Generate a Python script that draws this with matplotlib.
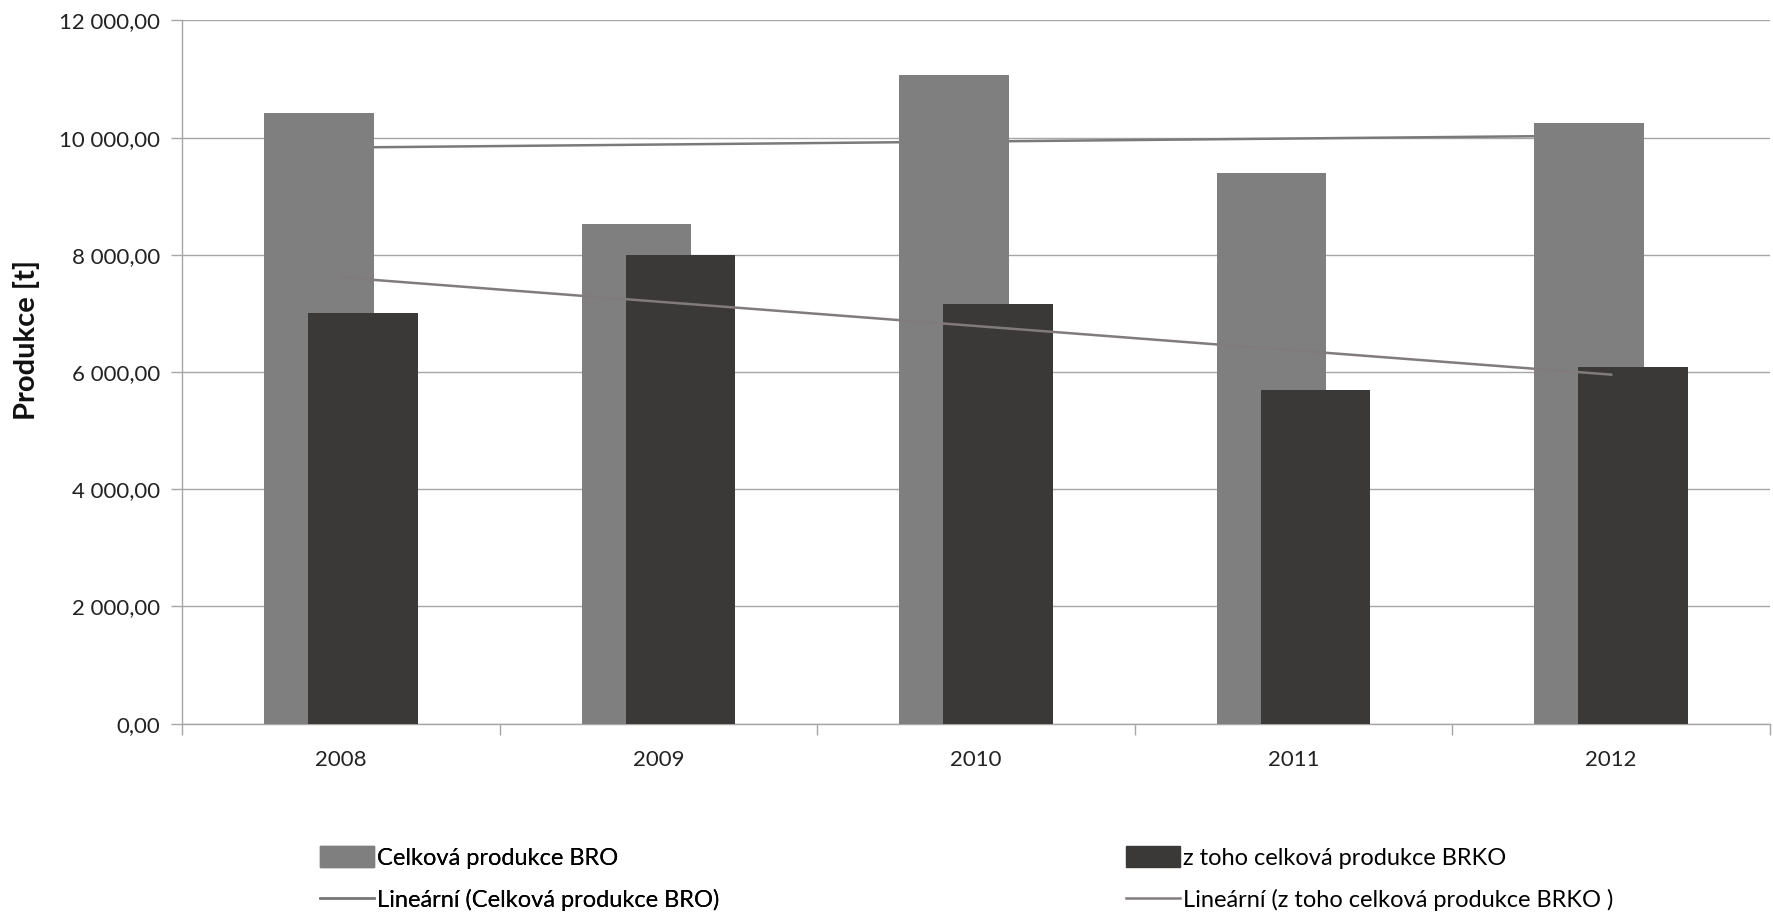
import matplotlib
matplotlib.use("Agg")
import matplotlib.pyplot as plt
import matplotlib.ticker as mticker
from matplotlib.patches import Patch
from matplotlib.lines import Line2D
import numpy as np

# data
years = ["2008", "2009", "2010", "2011", "2012"]
bro = [10420, 8530, 11075, 9395, 10245]
brko = [7005, 7990, 7160, 5690, 6080]

label_bro = "Celková produkce BRO"
label_brko = "z toho celková produkce BRKO"
label_lin_bro = "Lineární (Celková produkce BRO)"
label_lin_brko = "Lineární (z toho celková produkce BRKO )"

c_bro = "#7f7f7f"
c_brko = "#3a3937"
c_trend_bro = "#7a7a7a"
c_trend_brko = "#827b7c"
c_grid = "#a6a6a6"

plt.rcParams["font.family"] = ["Lato", "DejaVu Sans"]

fig = plt.figure(figsize=(17.73, 9.14), dpi=100)
ax = fig.add_axes([182 / 1773, 1 - 723.6 / 914, (1770 - 182) / 1773, (723.6 - 20.4) / 914])

x = np.arange(len(years))
w = 0.345
off = 0.069

# linear trend lines (Excel style)
k1 = np.polyfit(x, bro, 1)
k2 = np.polyfit(x, brko, 1)
ax.plot(x, np.polyval(k1, x), color=c_trend_bro, lw=1.8, zorder=2)

ax.bar(x - off, bro, width=w, color=c_bro, zorder=3)
ax.bar(x + off, brko, width=w, color=c_brko, zorder=4)

ax.plot(x, np.polyval(k2, x), color=c_trend_brko, lw=1.8, zorder=5)

ax.set_xlim(-0.5, len(years) - 0.5)
ax.set_ylim(0, 12000)
ax.yaxis.set_major_locator(mticker.MultipleLocator(2000))


def fmt(v, pos):
    s = f"{v:,.2f}"
    return s.replace(",", "X").replace(".", ",").replace("X", " ")


ax.yaxis.set_major_formatter(mticker.FuncFormatter(fmt))
ax.grid(axis="y", color=c_grid, lw=1.0, zorder=0)
ax.set_axisbelow(True)

ax.set_xticks(np.arange(-0.5, len(years), 1.0))
ax.set_xticklabels([])
ax.set_xticks(x, minor=True)
ax.set_xticklabels(years, minor=True)
ax.tick_params(axis="x", which="major", length=8, width=1.0, color=c_grid)
ax.tick_params(axis="x", which="minor", length=0, pad=19, labelsize=16, labelcolor="#222222")
ax.tick_params(axis="y", length=8, width=1.0, color=c_grid, pad=8, labelsize=16, labelcolor="#222222")

for side in ["top", "right"]:
    ax.spines[side].set_visible(False)
for side in ["left", "bottom"]:
    ax.spines[side].set_color(c_grid)
    ax.spines[side].set_linewidth(1.0)

fig.text(27 / 1773, 1 - 340 / 914, "Produkce [t]", rotation=90, ha="center", va="center",
         fontsize=21, fontweight="bold", color="#111111")

# legend in two columns, placed like the original
h1 = [Patch(color=c_bro), Line2D([], [], color=c_trend_bro, lw=1.8)]
h2 = [Patch(color=c_brko), Line2D([], [], color=c_trend_brko, lw=1.8)]
leg_kw = dict(loc="upper left", frameon=False, fontsize=17, handlelength=2.3, handleheight=1.0,
              handletextpad=0.12, labelspacing=0.84, borderaxespad=0, borderpad=0)
leg1 = fig.legend(h1, [label_bro, label_lin_bro], bbox_to_anchor=(320 / 1773, 1 - 846 / 914), **leg_kw)
leg2 = fig.legend(h2, [label_brko, label_lin_brko], bbox_to_anchor=(1126 / 1773, 1 - 846 / 914), **leg_kw)
fig.add_artist(leg1)

fig.savefig("out.png", dpi=100)
